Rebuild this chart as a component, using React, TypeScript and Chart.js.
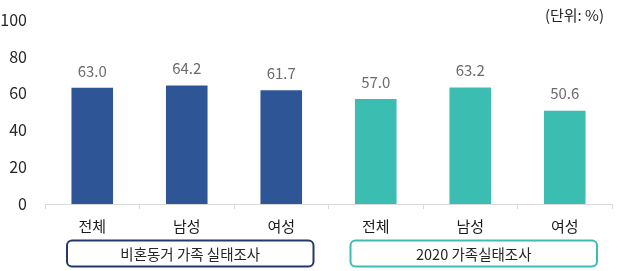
import React, { useEffect, useRef } from "react";
import { Chart, registerables } from "chart.js";

Chart.register(...registerables);

const categories = ["전체", "남성", "여성", "전체", "남성", "여성"];
const values = [63.0, 64.2, 61.7, 57.0, 63.2, 50.6];
const groupLabels = ["비혼동거 가족 실태조사", "2020 가족실태조사"];
const groupIndex = [0, 0, 0, 1, 1, 1];
const yTicks = [0, 20, 40, 60, 80, 100];
const unitLabel = "(단위: %)";

const barColors = ["#2E5596", "#3CBDB2"];
const boxColors = ["#22396A", "#3CBDB2"];
const FONT = "'Noto Sans CJK KR', 'Noto Sans', sans-serif";

const overlayPlugin = {
  id: "overlay",
  afterDatasetsDraw(chart: any) {
    const ctx = chart.ctx;
    const x = chart.scales.x;
    const y = chart.scales.y;
    const meta = chart.getDatasetMeta(0);
    ctx.save();
    // value labels
    ctx.font = `15px ${FONT}`;
    ctx.fillStyle = "#6b6b6b";
    ctx.textAlign = "center";
    ctx.textBaseline = "middle";
    meta.data.forEach((bar: any, i: number) => {
      ctx.fillText(values[i].toFixed(1), bar.x, bar.y - 17);
    });
    // group boxes
    const catW = x.getPixelForValue(1) - x.getPixelForValue(0);
    groupLabels.forEach((label, g) => {
      const idx = groupIndex.map((v, i) => (v === g ? i : -1)).filter((i) => i >= 0);
      const left = x.getPixelForValue(idx[0]) - catW / 2 + 22;
      const right = x.getPixelForValue(idx[idx.length - 1]) + catW / 2 - 15;
      const top = y.getPixelForValue(0) + 36.5;
      const h = 26;
      ctx.beginPath();
      ctx.lineWidth = 2;
      ctx.strokeStyle = boxColors[g];
      ctx.roundRect(left, top, right - left, h, 5);
      ctx.stroke();
      ctx.fillStyle = "#262626";
      ctx.font = `14.5px ${FONT}`;
      ctx.fillText(label, (left + right) / 2, top + h / 2 + 1);
    });
    // unit label
    ctx.font = `15px ${FONT}`;
    ctx.fillStyle = "#262626";
    ctx.textAlign = "right";
    ctx.fillText(unitLabel, 604, 15);
    ctx.restore();
  },
};

export default function App() {
  const ref = useRef<HTMLCanvasElement | null>(null);
  useEffect(() => {
    document.body.style.margin = "0";
    const chart = new Chart(ref.current as HTMLCanvasElement, {
      type: "bar",
      data: {
        labels: categories,
        datasets: [
          {
            data: values,
            backgroundColor: groupIndex.map((g) => barColors[g]),
            barPercentage: 0.44,
            categoryPercentage: 1,
          },
        ],
      },
      options: {
        animation: false,
        responsive: false,
        maintainAspectRatio: false,
        layout: { padding: { top: 7, right: 18, left: 0, bottom: 0 } },
        plugins: { legend: { display: false }, tooltip: { enabled: false } },
        scales: {
          x: {
            grid: {
              offset: true,
              drawOnChartArea: false,
              tickLength: 5,
              color: "#d9d9d9",
            },
            border: { color: "#d9d9d9" },
            ticks: {
              color: "#1a1a1a",
              font: { size: 15, family: FONT },
              padding: 8,
            },
            afterFit(scale: any) {
              scale.height = 67;
            },
          },
          y: {
            min: 0,
            max: 100,
            afterBuildTicks(scale: any) {
              scale.ticks = yTicks.map((v) => ({ value: v }));
            },
            grid: { display: false },
            border: { display: false },
            ticks: {
              color: "#262626",
              font: { size: 16, family: FONT },
              padding: 10,
            },
            afterFit(scale: any) {
              scale.width = 45;
            },
          },
        },
      },
      plugins: [overlayPlugin],
    });
    return () => chart.destroy();
  }, []);
  return (
    <div style={{ position: "fixed", left: 0, top: 0, width: 630, height: 271 }}>
      <canvas ref={ref} width={630} height={271} style={{ width: 630, height: 271 }} />
    </div>
  );
}
